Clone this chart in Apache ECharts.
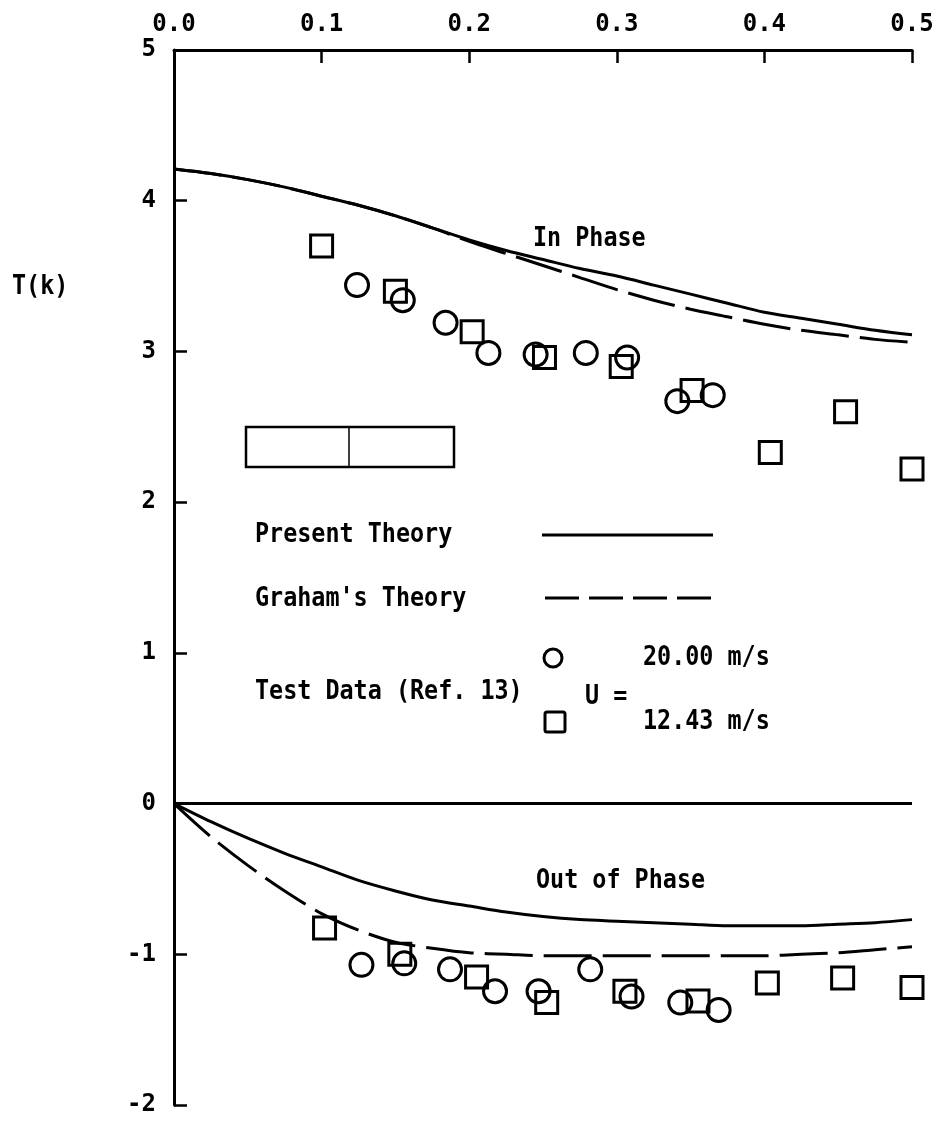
<!DOCTYPE html>
<html>
<head>
<meta charset="utf-8">
<script src="https://cdn.jsdelivr.net/npm/echarts@6/dist/echarts.min.js"></script>
<style>
html,body{margin:0;padding:0;background:#fff;}
#chart{width:942px;height:1121px;}
</style>
</head>
<body>
<div id="chart"></div>
<script>
// ---- data ----
var xTicks = [0.0, 0.1, 0.2, 0.3, 0.4, 0.5];
var yTicks = [-2, -1, 0, 1, 2, 3, 4, 5];
var k = [0,0.025,0.05,0.075,0.1,0.125,0.15,0.175,0.2,0.225,0.25,0.275,0.3,0.325,0.35,0.375,0.4,0.425,0.45,0.475,0.5];
var presentIn  = [4.21,4.18,4.14,4.09,4.03,3.97,3.90,3.82,3.74,3.67,3.61,3.55,3.50,3.44,3.38,3.32,3.26,3.22,3.18,3.14,3.11];
var grahamIn   = [4.21,4.18,4.14,4.09,4.03,3.97,3.90,3.82,3.73,3.65,3.57,3.49,3.41,3.34,3.28,3.23,3.18,3.14,3.11,3.08,3.06];
var presentOut = [0,-0.12,-0.23,-0.33,-0.42,-0.51,-0.58,-0.64,-0.68,-0.72,-0.75,-0.77,-0.78,-0.79,-0.80,-0.81,-0.81,-0.81,-0.80,-0.79,-0.77];
var grahamOut  = [0,-0.22,-0.41,-0.58,-0.73,-0.84,-0.92,-0.96,-0.99,-1.00,-1.01,-1.01,-1.01,-1.01,-1.01,-1.01,-1.01,-1.00,-0.99,-0.97,-0.95];
var zeroK = [0, 0.5];
var zeroV = [0, 0];

// test data, U = 20.00 m/s (circles)
var circK   = [0.124,0.155,0.184,0.213,0.245,0.279,0.307,0.341,0.365];
var circIn  = [3.44,3.34,3.19,2.99,2.98,2.99,2.96,2.67,2.71];
var circOutK= [0.127,0.156,0.187,0.2175,0.247,0.282,0.310,0.343,0.369];
var circOut = [-1.07,-1.06,-1.10,-1.245,-1.245,-1.10,-1.28,-1.32,-1.37];
// test data, U = 12.43 m/s (squares)
var sqK     = [0.100,0.150,0.202,0.251,0.303,0.351,0.404,0.455,0.500];
var sqIn    = [3.70,3.40,3.13,2.96,2.90,2.74,2.33,2.60,2.22];
var sqOutK  = [0.102,0.153,0.205,0.2525,0.3055,0.355,0.402,0.453,0.500];
var sqOut   = [-0.825,-1.00,-1.15,-1.32,-1.245,-1.31,-1.19,-1.157,-1.22];

function pairs(xs, ys){ return xs.map(function(x,i){ return [x, ys[i]]; }); }

var FONT = '"DejaVu Sans Mono", monospace';
var chart = echarts.init(document.getElementById('chart'), null, {renderer:'canvas'});

function lineSeries(xs, ys, dashed){
  return {
    type:'line', data: pairs(xs, ys), showSymbol:false, smooth:0.3, silent:true,
    lineStyle:{color:'#000', width:3, type: dashed ? [48,11] : 'solid'}, z:2
  };
}
function scatter(xs, ys, sym){
  return {
    type:'scatter', data: pairs(xs, ys), symbol: sym, symbolSize: sym==='circle'?23:22,
    itemStyle:{color:'rgba(0,0,0,0)', borderColor:'#000', borderWidth:3, opacity:1}, z:3, silent:true
  };
}
function txt(s, x, y){
  return {type:'text', x:x, y:y, scaleX:0.9, scaleY:1,
    style:{text:s, font:'bold 26px ' + FONT, fill:'#000', align:'left', verticalAlign:'middle'}};
}

chart.setOption({
  animation:false,
  backgroundColor:'#fff',
  grid:{left:174, top:50, right:30, bottom:16, containLabel:false},
  xAxis:{
    type:'value', position:'top', min:0, max:0.5, interval:0.1,
    axisLine:{show:true, onZero:false, lineStyle:{color:'#000', width:3}},
    axisTick:{show:true, inside:true, length:13, lineStyle:{color:'#000', width:2.5}},
    axisLabel:{margin:13, color:'#000', fontFamily:FONT, fontWeight:'bold', fontSize:24,
      formatter:function(v){ return v.toFixed(1); }},
    splitLine:{show:false}
  },
  yAxis:{
    type:'value', min:-2, max:5, interval:1,
    axisLine:{show:true, onZero:false, lineStyle:{color:'#000', width:3}},
    axisTick:{show:true, inside:true, length:13, lineStyle:{color:'#000', width:2.5}},
    axisLabel:{margin:18, color:'#000', fontFamily:FONT, fontWeight:'bold', fontSize:24},
    splitLine:{show:false}
  },
  series:[
    lineSeries(zeroK, zeroV, false),
    lineSeries(k, presentIn, false),
    lineSeries(k, grahamIn, true),
    lineSeries(k, presentOut, false),
    lineSeries(k, grahamOut, true),
    scatter(circK, circIn, 'circle'),
    scatter(circOutK, circOut, 'circle'),
    scatter(sqK, sqIn, 'rect'),
    scatter(sqOutK, sqOut, 'rect')
  ],
  graphic:[
    txt('T(k)', 12, 287),
    txt('In Phase', 533, 239),
    txt('Out of Phase', 536, 881),
    txt('Present Theory', 255, 535),
    txt("Graham's Theory", 255, 599),
    txt('Test Data (Ref. 13)', 255, 692),
    txt('U =', 585, 697),
    txt('20.00 m/s', 643, 658),
    txt('12.43 m/s', 643, 722),
    {type:'rect', shape:{x:246, y:427, width:208, height:40}, style:{fill:'none', stroke:'#000', lineWidth:2.5}},
    {type:'line', shape:{x1:349, y1:427, x2:349, y2:467}, style:{stroke:'#000', lineWidth:1.5}},
    {type:'line', shape:{x1:542, y1:535, x2:713, y2:535}, style:{stroke:'#000', lineWidth:3}},
    {type:'line', shape:{x1:545, y1:598, x2:713, y2:598}, style:{stroke:'#000', lineWidth:3, lineDash:[34,10]}},
    {type:'circle', shape:{cx:553, cy:658, r:9}, style:{fill:'none', stroke:'#000', lineWidth:3}},
    {type:'rect', shape:{x:545, y:712, width:20, height:20, r:2}, style:{fill:'none', stroke:'#000', lineWidth:3}}
  ]
});
</script>
</body>
</html>
